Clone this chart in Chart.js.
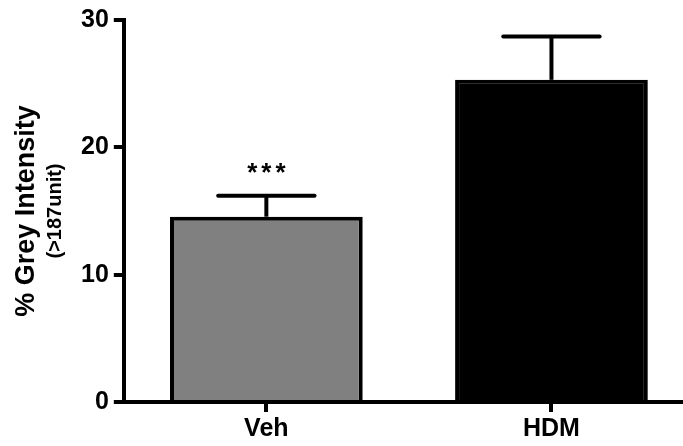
<!DOCTYPE html>
<html>
<head>
<meta charset="utf-8">
<script src="https://cdn.jsdelivr.net/npm/chart.js@4"></script>
<style>
  html, body { margin: 0; padding: 0; background: #fff; overflow: hidden; }
  #wrap { width: 694px; height: 446px; }
</style>
</head>
<body>
<div id="wrap"><canvas id="barChart"></canvas></div>
<script>
const groups = ['Veh', 'HDM'];
const means = [14.55, 25.3];
const sem = [1.65, 3.4];
const stars = ['***', ''];
const yTicks = [0, 10, 20, 30];

const FONT = "'Liberation Sans', Arial, sans-serif";

// error bars (upper only) + significance stars
const errorBars = {
    id: 'errorBars',
    afterDatasetsDraw(chart) {
        const ctx = chart.ctx;
        const yScale = chart.scales.y;
        const meta = chart.getDatasetMeta(0);
        ctx.save();
        ctx.strokeStyle = '#000';
        ctx.lineWidth = 4;
        meta.data.forEach((bar, i) => {
            const top = yScale.getPixelForValue(means[i] + sem[i]);
            const half = bar.width / 4;
            ctx.beginPath();
            ctx.lineCap = 'butt';
            ctx.moveTo(bar.x, bar.y);
            ctx.lineTo(bar.x, top);
            ctx.stroke();
            ctx.beginPath();
            ctx.lineCap = 'round';
            ctx.moveTo(bar.x - half, top);
            ctx.lineTo(bar.x + half, top);
            ctx.stroke();
            if (stars[i]) {
                ctx.fillStyle = '#000';
                ctx.font = 'bold 26px ' + FONT;
                ctx.letterSpacing = '4px';
                ctx.textAlign = 'center';
                ctx.textBaseline = 'middle';
                ctx.fillText(stars[i], bar.x + 2, top - 22);
            }
        });
        ctx.restore();
    }
};

// two-line y axis title with different sizes
const yTitle = {
    id: 'yTitle',
    afterDraw(chart) {
        const ctx = chart.ctx;
        const area = chart.chartArea;
        const cy = (area.top + area.bottom) / 2;
        ctx.save();
        ctx.fillStyle = '#000';
        ctx.textAlign = 'center';
        ctx.textBaseline = 'middle';
        ctx.translate(27, cy);
        ctx.rotate(-Math.PI / 2);
        ctx.font = 'bold 27px ' + FONT;
        ctx.fillText('% Grey Intensity', 0, 0);
        ctx.font = 'bold 20px ' + FONT;
        ctx.fillText('(>187unit)', 0, 28);
        ctx.restore();
    }
};

new Chart(document.getElementById('barChart'), {
    type: 'bar',
    data: {
        labels: groups,
        datasets: [{
            data: means,
            backgroundColor: ['#808080', '#000000'],
            borderColor: '#000',
            borderWidth: 4,
            categoryPercentage: 1,
            barPercentage: 0.676
        }]
    },
    options: {
        responsive: true,
        maintainAspectRatio: false,
        animation: false,
        layout: { padding: { left: 76, top: 20, right: 0, bottom: 0 } },
        plugins: {
            legend: { display: false },
            tooltip: { enabled: false }
        },
        scales: {
            x: {
                grid: { display: true, drawOnChartArea: false, offset: false, tickLength: 10, lineWidth: 4, color: '#000' },
                border: { color: '#000', width: 4 },
                ticks: { color: '#000', padding: 2, font: { family: FONT, size: 25, weight: 'bold' } }
            },
            y: {
                min: 0,
                max: 30,
                afterBuildTicks(scale) { scale.ticks = yTicks.map(v => ({ value: v })); },
                grid: { drawOnChartArea: false, tickLength: 10, lineWidth: 4, color: '#000' },
                border: { color: '#000', width: 4 },
                ticks: { color: '#000', padding: 5, font: { family: FONT, size: 25, weight: 'bold' } }
            }
        }
    },
    plugins: [errorBars, yTitle]
});
</script>
</body>
</html>
